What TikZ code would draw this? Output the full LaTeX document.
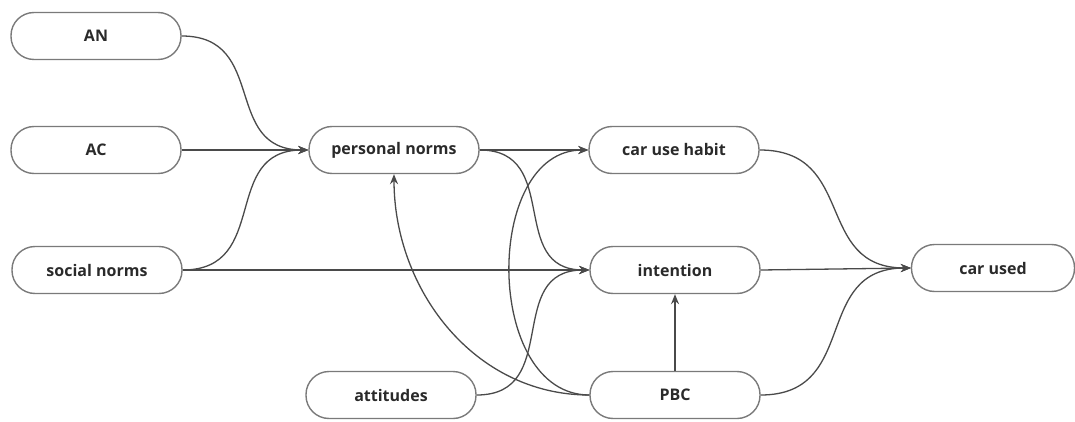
\documentclass[tikz,border=0pt]{standalone}
\usepackage{fontspec}
\setmainfont{Open Sans}
\usetikzlibrary{arrows.meta}
\definecolor{boxline}{HTML}{7A7A7A}
\definecolor{edgeline}{HTML}{4A4A4A}
\definecolor{txt}{HTML}{2A2A2A}
\begin{document}
\begin{tikzpicture}[x=1pt,y=-1pt,
  box/.style={draw=boxline,line width=1.4pt,rounded corners=23pt,minimum width=170pt,minimum height=47pt,inner sep=0pt,font=\fontsize{16}{19}\selectfont\bfseries,text=txt},
  conn/.style={draw=edgeline,line width=1.3pt,-{Stealth[length=10pt,width=8pt]}}]
\useasboundingbox (0,0) rectangle (1075,422);
\node[box] (AN) at (96,36) {AN};
\node[box] (AC) at (96,150) {AC};
\node[box] (SN) at (97,270) {social norms};
\node[box] (PN) at (394,150) {personal norms};
\node[box] (ATT) at (391,395) {attitudes};
\node[box] (CUH) at (674,150) {car use habit};
\node[box] (INT) at (675,270) {intention};
\node[box] (PBC) at (675,395) {PBC};
\node[box,minimum width=163pt] (CU) at (993,268) {car used};
\draw[conn] (AN.east) to[out=0,in=180,looseness=1.3] (PN.west);
\draw[conn] (AC.east) -- (PN.west);
\draw[conn] (SN.east) to[out=0,in=180,looseness=1.3] (PN.west);
\draw[conn] (SN.east) -- (INT.west);
\draw[conn] (PN.east) -- (CUH.west);
\draw[conn] (PN.east) to[out=0,in=180,looseness=1.3] (INT.west);
\draw[conn] (ATT.east) to[out=0,in=180,looseness=1.3] (INT.west);
\draw[conn] (PBC.west) to[out=180,in=180,looseness=1.1] (CUH.west);
\draw[conn] (PBC.west) to[out=180,in=-90,looseness=1.0] (PN.south);
\draw[conn] (PBC.north) -- (INT.south);
\draw[conn] (CUH.east) to[out=0,in=180,looseness=1.3] (CU.west);
\draw[conn] (INT.east) -- (CU.west);
\draw[conn] (PBC.east) to[out=0,in=180,looseness=1.3] (CU.west);
\end{tikzpicture}
\end{document}
